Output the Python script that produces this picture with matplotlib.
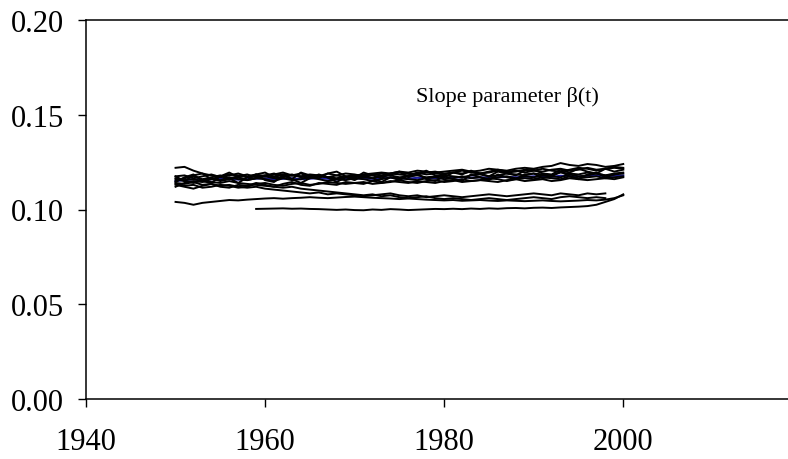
import numpy as np
import matplotlib
matplotlib.use("Agg")
import matplotlib.pyplot as plt

plt.rcParams['font.family'] = ['Liberation Serif', 'DejaVu Serif']

years = list(range(1950, 2001))
nan = np.nan

# slope parameter estimates (one series per estimation run)
c1 = [.1220,.1225,.1205,.1190,.1180,.1175,.1185,.1180,.1170,.1175,
      .1180,.1175,.1185,.1180,.1190,.1175,.1180,.1170,.1165,.1175,
      .1180,.1185,.1190,.1195,.1190,.1200,.1195,.1205,.1200,.1195,
      .1200,.1205,.1210,.1200,.1205,.1215,.1210,.1205,.1215,.1220,
      .1215,.1225,.1230,.1245,.1235,.1230,.1240,.1235,.1225,.1230,.1240]
c2 = [.1150,.1165,.1175,.1160,.1170,.1180,.1165,.1175,.1185,.1170,
      .1180,.1190,.1175,.1185,.1170,.1180,.1175,.1190,.1180,.1170,
      .1180,.1175,.1185,.1180,.1190,.1185,.1180,.1195,.1185,.1190,
      .1185,.1195,.1190,.1200,.1190,.1195,.1205,.1195,.1200,.1210,
      .1205,.1200,.1210,.1215,.1205,.1210,.1220,.1210,.1215,.1225,.1220]
c3 = [.1160,.1150,.1140,.1155,.1165,.1150,.1160,.1170,.1155,.1165,
      .1160,.1150,.1165,.1155,.1160,.1170,.1160,.1150,.1160,.1155,
      .1165,.1160,.1150,.1160,.1170,.1165,.1160,.1155,.1165,.1170,
      .1160,.1165,.1175,.1165,.1170,.1160,.1170,.1175,.1165,.1175,
      .1170,.1180,.1175,.1170,.1185,.1175,.1180,.1190,.1180,.1185,.1190]
c4 = [.1130,.1120,.1110,.1125,.1135,.1120,.1115,.1130,.1125,.1140,
      .1130,.1120,.1135,.1145,.1130,.1125,.1140,.1135,.1130,.1145,
      .1140,.1135,.1150,.1140,.1145,.1155,.1145,.1140,.1150,.1155,
      .1145,.1150,.1160,.1150,.1155,.1165,.1160,.1150,.1160,.1165,
      .1160,.1170,.1165,.1160,.1175,.1165,.1170,.1175,.1165,.1170,.1175]
c5 = [.1120,.1140,.1150,.1145,.1160,.1155,.1170,.1160,.1155,.1165,
      .1175,.1165,.1170,.1180,.1175,.1165,.1175,.1170,.1160,.1170,
      .1175,.1170,.1165,.1175,.1180,.1170,.1175,.1180,.1170,.1175,
      .1180,.1175,.1170,.1180,.1185,.1175,.1180,.1190,.1185,.1180,
      .1190,.1185,.1180,.1195,.1190,.1185,.1195,.1190,.1180,.1190,.1195]
c6 = [.1165,.1155,.1160,.1150,.1145,.1140,.1150,.1140,.1135,.1130,
      .1125,.1120,.1115,.1120,.1110,.1105,.1100,.1095,.1090,.1085,
      .1080,.1075,.1080,.1070,.1075,.1065,.1060,.1065,.1070,.1060,
      .1055,.1060,.1055,.1050,.1055,.1060,.1055,.1050,.1055,.1060,
      .1065,.1060,.1055,.1065,.1070,.1065,.1060,.1065,.1060,nan,nan]
c7 = [.1140,.1135,.1145,.1130,.1135,.1125,.1130,.1120,.1115,.1120,
      .1110,.1105,.1100,.1095,.1090,.1085,.1090,.1080,.1085,.1080,
      .1075,.1070,.1075,.1080,.1085,.1075,.1070,.1075,.1065,.1070,
      .1075,.1070,.1065,.1070,.1075,.1080,.1075,.1070,.1075,.1080,
      .1085,.1080,.1075,.1085,.1080,.1075,.1085,.1080,.1085,nan,nan]
c8 = [.1175,.1180,.1165,.1175,.1185,.1170,.1180,.1190,.1175,.1185,
      .1175,.1185,.1195,.1180,.1175,.1185,.1180,.1170,.1180,.1190,
      .1185,.1175,.1180,.1190,.1185,.1195,.1190,.1185,.1195,.1200,
      .1190,.1195,.1205,.1195,.1190,.1200,.1210,.1200,.1205,.1195,
      .1205,.1215,.1205,.1200,.1210,.1220,.1215,.1205,.1215,.1220,.1215]
c9 = [.1145,.1170,.1185,.1150,.1140,.1175,.1165,.1140,.1170,.1185,
      .1155,.1145,.1180,.1160,.1140,.1165,.1185,.1170,.1145,.1170,
      .1155,.1180,.1165,.1145,.1170,.1155,.1180,.1190,.1160,.1150,
      .1175,.1160,.1150,.1185,.1170,.1155,.1185,.1170,.1160,.1185,
      .1190,.1165,.1175,.1200,.1175,.1160,.1185,.1195,.1170,.1185,nan]
c10 = [.1175,.1150,.1180,.1190,.1160,.1175,.1195,.1170,.1155,.1185,
       .1195,.1170,.1185,.1160,.1195,.1180,.1165,.1190,.1200,.1175,
       .1165,.1195,.1180,.1165,.1190,.1200,.1170,.1185,.1205,.1180,
       .1170,.1195,.1185,.1205,.1190,.1175,.1200,.1190,.1180,.1205,
       .1210,.1190,.1185,.1210,.1195,.1215,.1200,.1190,.1215,.1200,.1210]
c11 = [.1135,.1125,.1130,.1115,.1120,.1130,.1125,.1115,.1120,.1135,
       .1140,.1130,.1125,.1135,.1140,.1130,.1135,.1145,.1140,.1135,
       .1140,.1145,.1135,.1140,.1150,.1145,.1140,.1150,.1145,.1140,
       .1150,.1155,.1145,.1150,.1155,.1150,.1145,.1155,.1160,.1150,
       .1155,.1160,.1150,.1155,.1165,.1160,.1155,.1160,.1165,.1160,.1170]
low_a = [.1040,.1035,.1025,.1035,.1040,.1045,.1050,.1048,.1052,.1055,
         .1058,.1060,.1057,.1060,.1062,.1065,.1062,.1060,.1063,.1066,
         .1068,.1065,.1062,.1060,.1058,.1055,.1058,.1055,.1052,.1050,
         .1048,.1050,.1046,.1048,.1050,.1047,.1045,.1048,.1046,.1044,
         .1046,.1048,.1045,.1043,.1045,.1047,.1050,.1048,.1052,.1060,.1075]
low_b = [nan,nan,nan,nan,nan,nan,nan,nan,nan,.1003,
         .1004,.1005,.1006,.1004,.1005,.1003,.1002,.1000,.0998,.1000,
         .0997,.0996,.1000,.0998,.1002,.1000,.0997,.0999,.1001,.1003,
         .1002,.1004,.1002,.1005,.1003,.1006,.1004,.1007,.1008,.1006,
         .1009,.1010,.1008,.1011,.1013,.1015,.1018,.1025,.1040,.1055,.1080]
mean_line = [.1150,.1155,.1160,.1155,.1160,.1162,.1160,.1158,.1160,.1163,
             .1165,.1160,.1162,.1165,.1160,.1163,.1165,.1162,.1158,.1162,
             .1165,.1163,.1162,.1165,.1168,.1165,.1163,.1167,.1165,.1166,
             .1165,.1168,.1170,.1168,.1170,.1168,.1170,.1172,.1170,.1172,
             .1175,.1173,.1172,.1178,.1176,.1174,.1178,.1180,.1176,.1178,.1180]

black_series = [c1, c2, c3, c4, c5, c6, c7, c8, c9, c10, c11, low_a, low_b]

x_ticks = [1940, 1960, 1980, 2000]
y_ticks = [0.00, 0.05, 0.10, 0.15, 0.20]
y_tick_labels = ['0.00', '0.05', '0.10', '0.15', '0.20']
annotation = 'Slope parameter β(t)'

fig = plt.figure(figsize=(7.88, 4.6), dpi=100)
ax = fig.add_axes([86/788, 1 - 400/460, (788 - 86)/788, (400 - 21)/460])

ax.plot(years, mean_line, color='#1c1c9c', lw=1.5, zorder=2)
for s in black_series:
    ax.plot(years, s, color='black', lw=1.4, zorder=3)

ax.set_xlim(1940, 2018.4)
ax.set_ylim(0, 0.20)
ax.set_xticks(x_ticks)
ax.set_xticklabels([str(t) for t in x_ticks])
ax.set_yticks(y_ticks)
ax.set_yticklabels(y_tick_labels)

for side in ['left', 'bottom', 'top']:
    ax.spines[side].set_linewidth(1.1)
    ax.spines[side].set_color('black')
ax.spines['right'].set_visible(False)

ax.tick_params(axis='both', direction='out', length=6, width=1.0,
               labelsize=22, colors='black')
ax.tick_params(axis='x', pad=14)
ax.tick_params(axis='y', pad=10)

ax.text(1976.8, 0.160, annotation, fontsize=16, va='center', ha='left')

fig.savefig('out.png', dpi=100)
